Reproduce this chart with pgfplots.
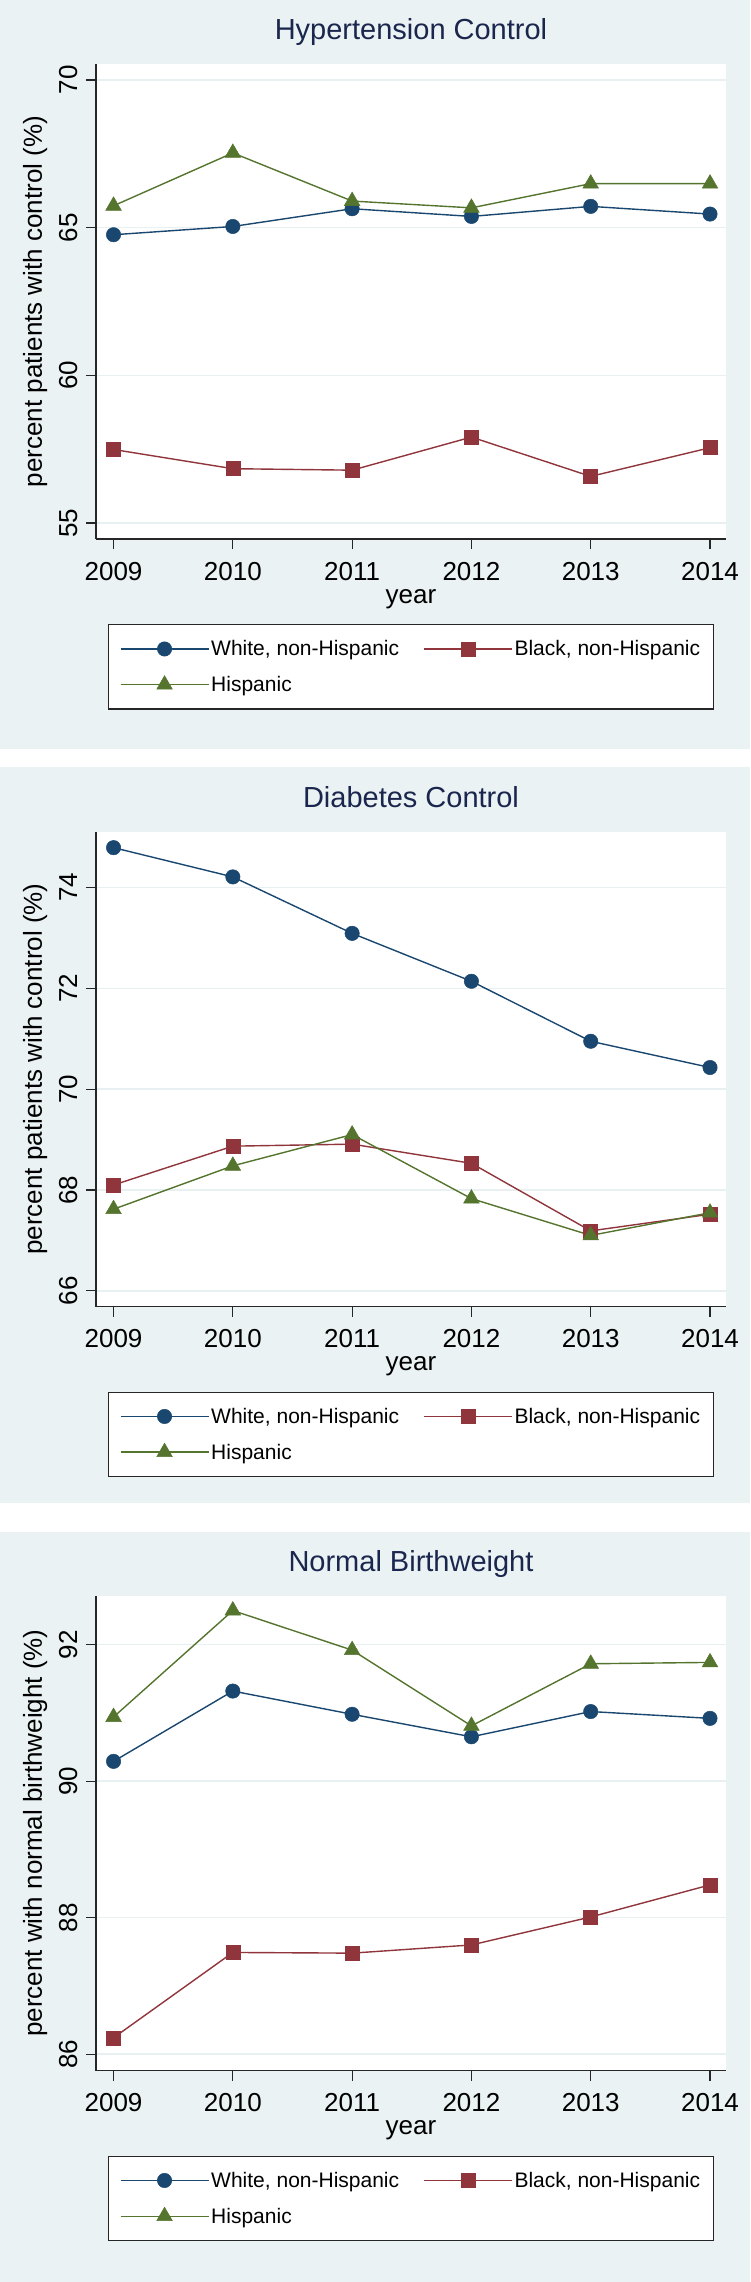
\documentclass[border=0pt]{standalone}
\usepackage{fontspec}
\setmainfont{Liberation Sans}
\usepackage{pgfplots}
\pgfplotsset{compat=1.18}
\definecolor{bgc}{RGB}{234,242,243}
\definecolor{gridc}{RGB}{232,240,242}
\definecolor{snavy}{RGB}{26,71,111}
\definecolor{smaroon}{RGB}{144,53,59}
\definecolor{sgreen}{RGB}{85,117,47}
\definecolor{titlec}{RGB}{26,38,77}
\pgfplotsset{
  panel/.style={
    scale only axis, width=630pt, height=475pt,
    anchor=south west,
    xmin=2008.853, xmax=2014.134,
    xtick={2009,2010,2011,2012,2013,2014},
    axis x line*=bottom, axis y line*=left,
    axis line style={black!85, line width=1.2pt, -},
    tick align=outside, major tick length=10pt,
    tick style={black!85, line width=1.2pt},
    ymajorgrids, grid style={gridc, line width=1.6pt},
    axis background/.style={fill=white},
    /pgf/number format/assume math mode=true,
    /pgf/number format/1000 sep={},
    ticklabel style={font=\fontsize{26}{30}\selectfont},
    xticklabel style={anchor=base, yshift=-31pt},
    yticklabel style={xshift=-9pt, rotate=90, anchor=base},
    xlabel={year},
    every axis x label/.style={at={(axis description cs:0.5,0)}, anchor=base, yshift=-64pt, font=\fontsize{26}{30}\selectfont},
    every axis y label/.style={at={(axis description cs:0,0.5)}, xshift=-54pt, rotate=90, anchor=base, font=\fontsize{26}{30}\selectfont},
    title style={at={(0.5,1)}, anchor=base, yshift=18pt, font=\fontsize{29}{34}\selectfont, text=titlec},
    legend columns=2,
    legend style={at={(axis description cs:0.5,0)}, anchor=north, yshift=-85pt,
      draw=black!85, line width=1.2pt, fill=white,
      font=\fontsize{21}{25}\selectfont,
      inner xsep=11pt, inner ysep=14pt, row sep=15pt,
      /tikz/every even column/.append style={column sep=22pt}},
    legend cell align=left,
    legend image code/.code={\draw[mark repeat=2,mark phase=2,##1] plot coordinates {(0pt,0pt) (44pt,0pt) (88pt,0pt)};},
  },
  wh/.style={color=snavy, line width=1.4pt, mark=*, mark size=7.2pt, mark options={fill=snavy, draw=snavy, line width=0.5pt}},
  bl/.style={color=smaroon, line width=1.4pt, mark=square*, mark size=7pt, mark options={fill=smaroon, draw=smaroon, line width=0.5pt}},
  hi/.style={color=sgreen, line width=1.4pt, mark=triangle*, mark size=9pt, mark options={fill=sgreen, draw=sgreen, line width=0.5pt}},
}
\begin{document}
\begin{tikzpicture}
\useasboundingbox (0,0) rectangle (750pt,-2282pt);
\fill[white] (0,0) rectangle (750pt,-2282pt);
\fill[bgc] (0,0) rectangle (750pt,-749pt);
\fill[bgc] (0,-767pt) rectangle (750pt,-1503pt);
\fill[bgc] (0,-1532pt) rectangle (750pt,-2282pt);

% Panel 1
\begin{axis}[panel, at={(96pt,-539pt)},
  title={Hypertension Control},
  ymin=54.46, ymax=70.54, ytick={55,60,65,70},
  ylabel={percent patients with control (\%)}]
\addplot[wh] coordinates {(2009,64.76) (2010,65.04) (2011,65.64) (2012,65.38) (2013,65.72) (2014,65.46)};
\addlegendentry{White, non-Hispanic}
\addplot[bl] coordinates {(2009,57.49) (2010,56.84) (2011,56.79) (2012,57.91) (2013,56.58) (2014,57.55)};
\addlegendentry{Black, non-Hispanic}
\addplot[hi] coordinates {(2009,65.74) (2010,67.53) (2011,65.90) (2012,65.67) (2013,66.49) (2014,66.49)};
\addlegendentry{Hispanic}
\end{axis}

% Panel 2
\begin{axis}[panel, at={(96pt,-1306.5pt)},
  title={Diabetes Control},
  ymin=65.69, ymax=75.11, ytick={66,68,70,72,74},
  ylabel={percent patients with control (\%)}]
\addplot[wh] coordinates {(2009,74.79) (2010,74.21) (2011,73.09) (2012,72.14) (2013,70.95) (2014,70.43)};
\addlegendentry{White, non-Hispanic}
\addplot[bl] coordinates {(2009,68.10) (2010,68.87) (2011,68.91) (2012,68.53) (2013,67.19) (2014,67.52)};
\addlegendentry{Black, non-Hispanic}
\addplot[hi] coordinates {(2009,67.62) (2010,68.48) (2011,69.10) (2012,67.83) (2013,67.10) (2014,67.55)};
\addlegendentry{Hispanic}
\end{axis}

% Panel 3
\begin{axis}[panel, at={(96pt,-2070.5pt)},
  title={Normal Birthweight},
  ymin=85.76, ymax=92.72, ytick={86,88,90,92},
  ylabel={percent with normal birthweight (\%)}]
\addplot[wh] coordinates {(2009,90.29) (2010,91.32) (2011,90.98) (2012,90.65) (2013,91.02) (2014,90.92)};
\addlegendentry{White, non-Hispanic}
\addplot[bl] coordinates {(2009,86.24) (2010,87.49) (2011,87.48) (2012,87.60) (2013,88.01) (2014,88.48)};
\addlegendentry{Black, non-Hispanic}
\addplot[hi] coordinates {(2009,90.94) (2010,92.50) (2011,91.92) (2012,90.81) (2013,91.72) (2014,91.74)};
\addlegendentry{Hispanic}
\end{axis}
\end{tikzpicture}
\end{document}
